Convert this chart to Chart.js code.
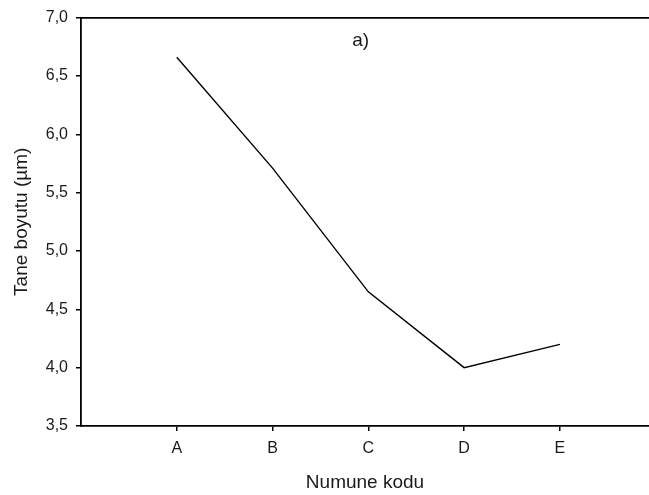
<!DOCTYPE html>
<html>
<head>
<meta charset="utf-8">
<script src="https://cdn.jsdelivr.net/npm/chart.js@4/dist/chart.umd.min.js"></script>
<style>
html,body{margin:0;padding:0;background:#fff;overflow:hidden;}
#wrap{width:649px;height:495px;}
</style>
</head>
<body>
<div id="wrap"><canvas id="c" width="649" height="495"></canvas></div>
<script>
const categories = ['A', 'B', 'C', 'D', 'E'];
const grainSize = [6.66, 5.71, 4.65, 4.00, 4.20];
const yTicks = [3.5, 4.0, 4.5, 5.0, 5.5, 6.0, 6.5, 7.0];
const xTitle = 'Numune kodu';
const yTitle = 'Tane boyutu (\u00b5m)';
const panelLabel = 'a)';
const panelLabelPos = {x: 2.92, y: 6.80};

const FONT = 'Arial, "Liberation Sans", sans-serif';
const TXT = '#1a1a1a';

const panelPlugin = {
  id: 'panelLabel',
  afterDatasetsDraw(chart) {
    const {ctx, scales} = chart;
    ctx.save();
    ctx.font = '19px ' + FONT;
    ctx.fillStyle = TXT;
    ctx.textAlign = 'center';
    ctx.textBaseline = 'middle';
    ctx.fillText(panelLabel, scales.x.getPixelForValue(panelLabelPos.x), scales.y.getPixelForValue(panelLabelPos.y));
    ctx.restore();
  }
};

new Chart(document.getElementById('c'), {
  type: 'line',
  data: {
    datasets: [{
      data: grainSize.map((v, i) => ({x: i + 1, y: v})),
      borderColor: '#000',
      borderWidth: 1.4,
      pointRadius: 0,
      fill: false,
      tension: 0
    }]
  },
  options: {
    responsive: false,
    animation: false,
    devicePixelRatio: 1,
    layout: {padding: 0},
    plugins: {legend: {display: false}, tooltip: {enabled: false}},
    scales: {
      x: {
        type: 'linear',
        position: 'bottom',
        min: 0,
        max: 5.93,
        afterBuildTicks: s => { s.ticks = categories.map((c, i) => ({value: i + 1})); },
        afterFit: s => { s.height = 69; },
        ticks: {
          callback: v => categories[v - 1] ?? '',
          font: {family: FONT, size: 16},
          color: TXT,
          padding: 8,
          maxRotation: 0,
          autoSkip: false
        },
        grid: {drawOnChartArea: false, drawTicks: true, tickLength: 5, color: '#000', lineWidth: 1.5},
        border: {display: true, color: '#000', width: 1.8},
        title: {display: true, text: xTitle, font: {family: FONT, size: 19}, color: TXT, padding: {top: 0, bottom: 1}}
      },
      x2: {
        type: 'linear',
        position: 'top',
        min: 0,
        max: 5.93,
        afterFit: s => { s.height = 14; },
        ticks: {display: false},
        grid: {display: true, drawOnChartArea: false, drawTicks: false},
        border: {display: true, color: '#000', width: 1.8}
      },
      y: {
        type: 'linear',
        min: 3.5,
        max: 7.0,
        afterBuildTicks: s => { s.ticks = yTicks.map(v => ({value: v})); },
        afterFit: s => { s.width = 81; },
        ticks: {
          callback: v => v.toFixed(1).replace('.', ','),
          font: {family: FONT, size: 16},
          color: TXT,
          padding: 8
        },
        grid: {drawOnChartArea: false, drawTicks: true, tickLength: 5, color: '#000', lineWidth: 1.5},
        border: {display: true, color: '#000', width: 1.8},
        title: {display: true, text: yTitle, font: {family: FONT, size: 19}, color: TXT, padding: {top: 10, bottom: 0}}
      }
    }
  },
  plugins: [panelPlugin]
});
</script>
</body>
</html>
